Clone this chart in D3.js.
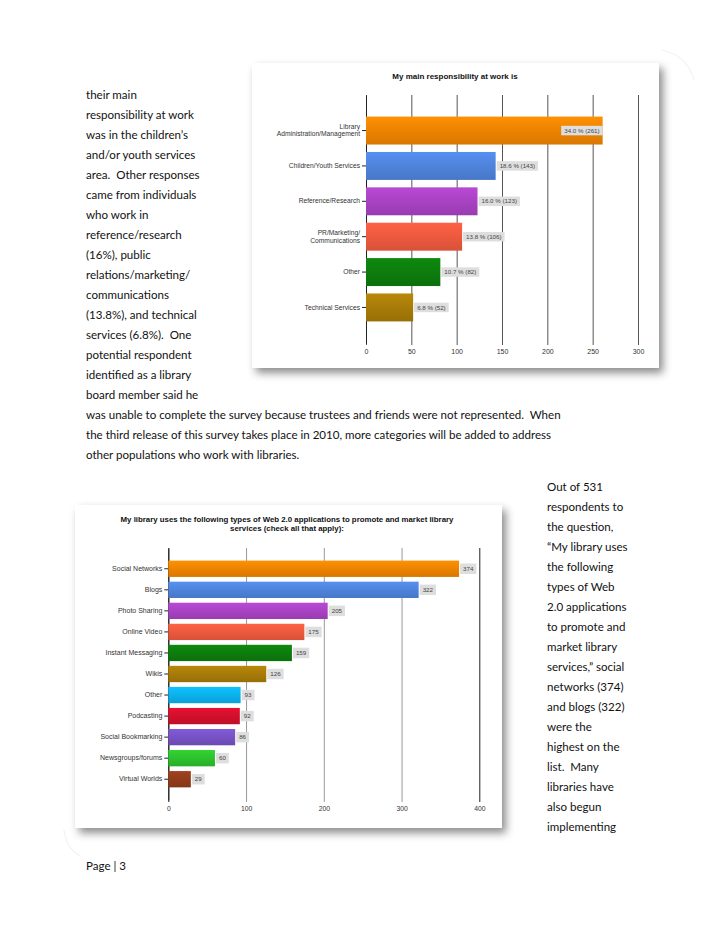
<!DOCTYPE html>
<html>
<head>
<meta charset="utf-8">
<script src="https://cdn.jsdelivr.net/npm/d3@7"></script>
<style>
  body { margin: 0; background: #fff; }
  svg { display: block; }
</style>
</head>
<body>
<div id="page"></div>
<script>
// chart 1 : main responsibility
let respCategories = ["Library\nAdministration/Management", "Children/Youth Services", "Reference/Research", "PR/Marketing/\nCommunications", "Other", "Technical Services"]
let respCounts = [261, 143, 123, 106, 82, 52]
let respPercents = ["34.0", "18.6", "16.0", "13.8", "10.7", "6.8"]
let respTicks = [0, 50, 100, 150, 200, 250, 300]
let respColors = ["#f28400", "#4f84dc", "#a943c4", "#f05a3e", "#0d7d0d", "#a87c08"]

// chart 2 : web 2.0 applications
let webCategories = ["Social Networks", "Blogs", "Photo Sharing", "Online Video", "Instant Messaging", "Wikis", "Other", "Podcasting", "Social Bookmarking", "Newsgroups/forums", "Virtual Worlds"]
let webCounts = [374, 322, 205, 175, 159, 126, 93, 92, 86, 60, 29]
let webTicks = [0, 100, 200, 300, 400]
let webColors = ["#f28400", "#4f84dc", "#a943c4", "#f05a3e", "#0d7d0d", "#a87c08", "#0cb2ef", "#d3102c", "#7752c6", "#2ec22e", "#933c1c"]

// page text
let leftLines = ["their main", "responsibility at work", "was in the children\u2019s", "and/or youth services", "area.  Other responses", "came from individuals", "who work in", "reference/research", "(16%), public", "relations/marketing/", "communications", "(13.8%), and technical", "services (6.8%).  One", "potential respondent", "identified as a library", "board member said he"]
let wideLines = ["was unable to complete the survey because trustees and friends were not represented.  When", "the third release of this survey takes place in 2010, more categories will be added to address", "other populations who work with libraries."]
let rightLines = ["Out of 531", "respondents to", "the question,", "\u201cMy library uses", "the following", "types of Web", "2.0 applications", "to promote and", "market library", "services,\u201d social", "networks (374)", "and blogs (322)", "were the", "highest on the", "list.  Many", "libraries have", "also begun", "implementing"]
let footerText = "Page | 3"

let svg = d3.select("#page").append("svg")
  .attr("width", 728)
  .attr("height", 942)

svg.append("rect").attr("width", 728).attr("height", 942).attr("fill", "#fff")

let defs = svg.append("defs")
let shadow = defs.append("filter").attr("id", "shadow")
  .attr("x", "-10%").attr("y", "-10%").attr("width", "125%").attr("height", "125%")
shadow.append("feDropShadow")
  .attr("dx", 4).attr("dy", 5).attr("stdDeviation", 4)
  .attr("flood-color", "#000").attr("flood-opacity", 0.45)

// one gradient per colour, light at top, darker at bottom
let allColors = Array.from(new Set(respColors.concat(webColors)))
allColors.forEach(function(c) {
  let g = defs.append("linearGradient").attr("id", "grad" + c.slice(1))
    .attr("x1", 0).attr("y1", 0).attr("x2", 0).attr("y2", 1)
  g.append("stop").attr("offset", "0%").attr("stop-color", d3.color(c).brighter(0.25))
  g.append("stop").attr("offset", "100%").attr("stop-color", d3.color(c).darker(0.3))
})

// faint page curl marks
svg.append("path").attr("d", "M662,50 Q688,56 694,80").attr("fill", "none").attr("stroke", "#f2f2f2").attr("stroke-width", 1.2)
svg.append("path").attr("d", "M64,830 Q66,848 80,856").attr("fill", "none").attr("stroke", "#f2f2f2").attr("stroke-width", 1.2)

// body text
let bodyFont = "Lato, 'Open Sans', sans-serif"
let bodySize = 11.55

function writeLines(lines, x, y0) {
  svg.append("g").selectAll("text")
    .data(lines)
    .enter()
    .append("text")
    .attr("x", x)
    .attr("y", (d, i) => y0 + i * 20)
    .attr("font-family", bodyFont)
    .attr("font-size", bodySize)
    .attr("fill", "#111")
    .style("white-space", "pre")
    .text(d => d)
}

writeLines(leftLines, 86, 99)
writeLines(wideLines, 86, 419)
writeLines(rightLines, 547, 491)
writeLines([footerText], 86, 870)

function barChart(opts) {
  svg.append("rect")
    .attr("x", opts.frame[0]).attr("y", opts.frame[1])
    .attr("width", opts.frame[2]).attr("height", opts.frame[3])
    .attr("fill", "#fff")
    .attr("filter", "url(#shadow)")

  let chart = svg.append("g")

  chart.selectAll(".title")
    .data(opts.title)
    .enter()
    .append("text")
    .attr("x", opts.titleX)
    .attr("y", (d, i) => opts.titleY + i * 9)
    .attr("text-anchor", "middle")
    .attr("font-family", "'Liberation Sans', Arial, sans-serif")
    .attr("font-weight", "bold")
    .attr("font-size", opts.titleSize)
    .attr("fill", "#111")
    .text(d => d)

  let x = d3.scaleLinear().domain(opts.domain).range(opts.xRange)
  let y = d3.scaleBand().domain(opts.categories).range(opts.yRange)
    .paddingInner(opts.padInner).paddingOuter(opts.padOuter)

  // gridlines and tick labels
  let xAxis = d3.axisBottom(x)
    .tickValues(opts.ticks)
    .tickSize(-(opts.yRange[1] - opts.yRange[0]) - 2)
    .tickPadding(4)
  let gx = chart.append("g")
    .attr("transform", `translate(0, ${opts.yRange[1] + 2})`)
    .call(xAxis)
  gx.select(".domain").remove()
  gx.selectAll("line").attr("stroke", d => opts.gridColor(d))
  gx.selectAll("text")
    .attr("font-family", "'Liberation Sans', Arial, sans-serif")
    .attr("font-size", opts.tickSize)
    .attr("fill", "#333")

  // category axis
  let yAxis = d3.axisLeft(y).tickSize(4).tickSizeOuter(0).tickPadding(2)
  let gy = chart.append("g")
    .attr("transform", `translate(${opts.xRange[0]}, 0)`)
    .call(yAxis)
  gy.select(".domain").attr("stroke", "#222")
  gy.selectAll("line").attr("stroke", "#222")
  gy.selectAll("text")
    .attr("font-family", "'Liberation Sans', Arial, sans-serif")
    .attr("font-size", opts.labelSize)
    .attr("fill", "#333")
    .each(function(d) {
      let parts = d.split("\n")
      if (parts.length > 1) {
        let t = d3.select(this).text(null).attr("dy", null)
        parts.forEach(function(p, i) {
          t.append("tspan")
            .attr("x", -6)
            .attr("dy", i == 0 ? (-(parts.length - 1) * 0.55 + 0.32) + "em" : "1.1em")
            .text(p)
        })
      }
    })

  let rows = opts.categories.map((c, i) => ({cat: c, value: opts.values[i], label: opts.labels[i], color: opts.colors[i]}))

  chart.selectAll(".bar")
    .data(rows)
    .enter()
    .append("rect")
    .attr("x", x(0))
    .attr("y", d => y(d.cat))
    .attr("width", d => x(d.value) - x(0))
    .attr("height", y.bandwidth())
    .attr("fill", d => "url(#grad" + d.color.slice(1) + ")")

  let vl = chart.selectAll(".vlabel")
    .data(rows)
    .enter()
    .append("g")

  vl.append("rect").attr("fill", "#dedede")
  vl.append("text")
    .attr("font-family", "'Liberation Sans', Arial, sans-serif")
    .attr("font-size", opts.valueSize)
    .attr("fill", "#444")
    .text(d => d.label)

  vl.each(function(d) {
    let g = d3.select(this)
    let w = g.select("text").node().getComputedTextLength() + 6
    let h = opts.boxH
    let bx = x(d.value) + 1
    if (bx + w > opts.xRange[1] - 2) bx = x(d.value) - w
    let cy = y(d.cat) + y.bandwidth() / 2
    g.select("rect").attr("x", bx).attr("y", cy - h / 2).attr("width", w).attr("height", h)
    g.select("text").attr("x", bx + 3).attr("y", cy).attr("dy", "0.35em")
  })
}

barChart({
  frame: [252, 63, 407, 305],
  title: ["My main responsibility at work is"],
  titleX: 455, titleY: 79, titleSize: 8,
  categories: respCategories,
  values: respCounts,
  labels: respCounts.map((v, i) => `${respPercents[i]} % (${v})`),
  colors: respColors,
  domain: [0, 300], ticks: respTicks,
  xRange: [366, 638], yRange: [95, 343],
  padInner: 0.21, padOuter: 0.61,
  gridColor: d => "#555",
  tickSize: 7, labelSize: 6.7, valueSize: 6.2, boxH: 9.5
})

barChart({
  frame: [75, 505, 427, 323],
  title: ["My library uses the following types of Web 2.0 applications to promote and market library", "services (check all that apply):"],
  titleX: 287, titleY: 522, titleSize: 7.85,
  categories: webCategories,
  values: webCounts,
  labels: webCounts.map(v => String(v)),
  colors: webColors,
  domain: [0, 400], ticks: webTicks,
  xRange: [168.3, 479.3], yRange: [548, 800],
  padInner: 0.225, padOuter: 0.6,
  gridColor: d => (d == 0 || d == 400) ? "#222" : "#999",
  tickSize: 6.8, labelSize: 7, valueSize: 6.2, boxH: 10.5
})
</script>
</body>
</html>
